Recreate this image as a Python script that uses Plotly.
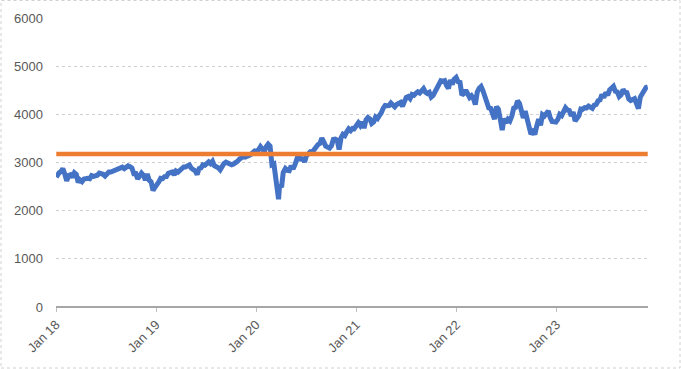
import plotly.graph_objects as go

dates = [
 "2018-01-02","2018-01-05","2018-01-12","2018-01-19","2018-01-26","2018-02-02","2018-02-09","2018-02-16","2018-02-23",
 "2018-03-02","2018-03-09","2018-03-16","2018-03-23","2018-03-29","2018-04-06","2018-04-13","2018-04-20","2018-04-27",
 "2018-05-04","2018-05-11","2018-05-18","2018-05-25","2018-06-01","2018-06-08","2018-06-15","2018-06-22","2018-06-29",
 "2018-07-06","2018-07-13","2018-07-20","2018-07-27","2018-08-03","2018-08-10","2018-08-17","2018-08-24","2018-08-31",
 "2018-09-07","2018-09-14","2018-09-21","2018-09-28","2018-10-05","2018-10-12","2018-10-19","2018-10-26","2018-11-02",
 "2018-11-09","2018-11-16","2018-11-23","2018-11-30","2018-12-07","2018-12-14","2018-12-21","2018-12-28",
 "2019-01-04","2019-01-11","2019-01-18","2019-01-25","2019-02-01","2019-02-08","2019-02-15","2019-02-22","2019-03-01",
 "2019-03-08","2019-03-15","2019-03-22","2019-03-29","2019-04-05","2019-04-12","2019-04-18","2019-04-26","2019-05-03",
 "2019-05-10","2019-05-17","2019-05-24","2019-05-31","2019-06-07","2019-06-14","2019-06-21","2019-06-28","2019-07-05",
 "2019-07-12","2019-07-19","2019-07-26","2019-08-02","2019-08-09","2019-08-16","2019-08-23","2019-08-30","2019-09-06",
 "2019-09-13","2019-09-20","2019-09-27","2019-10-04","2019-10-11","2019-10-18","2019-10-25","2019-11-01","2019-11-08",
 "2019-11-15","2019-11-22","2019-11-29","2019-12-06","2019-12-13","2019-12-20","2019-12-27",
 "2020-01-03","2020-01-10","2020-01-17","2020-01-24","2020-01-31","2020-02-07","2020-02-14","2020-02-21","2020-02-28",
 "2020-03-06","2020-03-13","2020-03-20","2020-03-23","2020-03-27","2020-04-03","2020-04-09","2020-04-17","2020-04-24",
 "2020-05-01","2020-05-08","2020-05-15","2020-05-22","2020-05-29","2020-06-05","2020-06-12","2020-06-19","2020-06-26",
 "2020-07-02","2020-07-10","2020-07-17","2020-07-24","2020-07-31","2020-08-07","2020-08-14","2020-08-21","2020-08-28",
 "2020-09-04","2020-09-11","2020-09-18","2020-09-25","2020-10-02","2020-10-09","2020-10-16","2020-10-23","2020-10-30",
 "2020-11-06","2020-11-13","2020-11-20","2020-11-27","2020-12-04","2020-12-11","2020-12-18","2020-12-24","2020-12-31",
 "2021-01-08","2021-01-15","2021-01-22","2021-01-29","2021-02-05","2021-02-12","2021-02-19","2021-02-26","2021-03-05",
 "2021-03-12","2021-03-19","2021-03-26","2021-04-01","2021-04-09","2021-04-16","2021-04-23","2021-04-30","2021-05-07",
 "2021-05-14","2021-05-21","2021-05-28","2021-06-04","2021-06-11","2021-06-18","2021-06-25","2021-07-02","2021-07-09",
 "2021-07-16","2021-07-23","2021-07-30","2021-08-06","2021-08-13","2021-08-20","2021-08-27","2021-09-03","2021-09-10",
 "2021-09-17","2021-09-24","2021-10-01","2021-10-08","2021-10-15","2021-10-22","2021-10-29","2021-11-05","2021-11-12",
 "2021-11-19","2021-11-26","2021-12-03","2021-12-10","2021-12-17","2021-12-23","2021-12-31",
 "2022-01-07","2022-01-14","2022-01-21","2022-01-28","2022-02-04","2022-02-11","2022-02-18","2022-02-25","2022-03-04",
 "2022-03-11","2022-03-18","2022-03-25","2022-04-01","2022-04-08","2022-04-14","2022-04-22","2022-04-29","2022-05-06",
 "2022-05-13","2022-05-20","2022-05-27","2022-06-03","2022-06-10","2022-06-17","2022-06-24","2022-07-01","2022-07-08",
 "2022-07-15","2022-07-22","2022-07-29","2022-08-05","2022-08-12","2022-08-19","2022-08-26","2022-09-02","2022-09-09",
 "2022-09-16","2022-09-23","2022-09-30","2022-10-07","2022-10-14","2022-10-21","2022-10-28","2022-11-04","2022-11-11",
 "2022-11-18","2022-11-25","2022-12-02","2022-12-09","2022-12-16","2022-12-23","2022-12-30",
 "2023-01-06","2023-01-13","2023-01-20","2023-01-27","2023-02-03","2023-02-10","2023-02-17","2023-02-24","2023-03-03",
 "2023-03-10","2023-03-17","2023-03-24","2023-03-31","2023-04-06","2023-04-14","2023-04-21","2023-04-28","2023-05-05",
 "2023-05-12","2023-05-19","2023-05-26","2023-06-02","2023-06-09","2023-06-16","2023-06-23","2023-06-30","2023-07-07",
 "2023-07-14","2023-07-21","2023-07-28","2023-08-04","2023-08-11","2023-08-18","2023-08-25","2023-09-01","2023-09-08",
 "2023-09-15","2023-09-22","2023-09-29","2023-10-06","2023-10-13","2023-10-20","2023-10-27","2023-11-03","2023-11-10",
 "2023-11-17","2023-11-24","2023-11-30",
]

index_values = [
 2695,2743,2786,2810,2873,2762,2620,2732,2747,
 2691,2786,2752,2588,2641,2604,2656,2670,2670,
 2663,2728,2713,2721,2735,2779,2780,2755,2718,
 2760,2801,2802,2819,2840,2833,2850,2875,2902,
 2872,2905,2930,2914,2885,2767,2768,2658,2723,
 2781,2736,2633,2760,2633,2600,2417,2486,
 2532,2596,2671,2665,2707,2708,2776,2793,2804,
 2743,2822,2800,2834,2893,2907,2905,2940,2946,
 2881,2860,2826,2752,2873,2887,2950,2942,2990,
 3014,2977,3026,2932,2919,2889,2847,2926,2979,
 3007,2992,2962,2952,2970,2986,3023,3067,3093,
 3120,3110,3141,3146,3169,3221,3240,
 3235,3265,3330,3295,3226,3328,3380,3338,2954,
 2972,2711,2305,2237,2541,2489,2790,2875,2837,
 2831,2930,2864,2955,3044,3194,3041,3098,3009,
 3130,3185,3225,3216,3271,3351,3373,3397,3508,
 3427,3341,3319,3298,3348,3477,3484,3465,3270,
 3510,3585,3558,3638,3699,3663,3709,3703,3756,
 3825,3768,3841,3714,3887,3934,3907,3811,3842,
 3943,3913,3975,4020,4129,4185,4180,4181,4233,
 4174,4156,4204,4230,4247,4166,4281,4352,4370,
 4327,4412,4395,4437,4468,4442,4509,4535,4459,
 4433,4455,4357,4391,4471,4545,4605,4697,4683,
 4698,4595,4538,4712,4621,4726,4766,
 4677,4663,4398,4432,4501,4419,4349,4385,4329,
 4204,4463,4543,4580,4488,4392,4272,4132,4123,
 4024,3901,4158,4109,3901,3675,3912,3825,3899,
 3863,3962,4130,4145,4280,4228,4058,3924,4067,
 3873,3693,3586,3640,3583,3753,3901,3771,3993,
 3965,4026,4072,3934,3852,3845,3840,
 3895,3999,3973,4071,4136,4090,4079,3970,4046,
 3862,3917,3971,4109,4105,4138,4133,4169,4136,
 4124,4192,4205,4282,4299,4410,4348,4450,4399,
 4505,4536,4582,4478,4464,4370,4406,4516,4457,
 4450,4320,4288,4309,4327,4224,4117,4358,4415,
 4514,4559,4568,
]

reference_level = 3175
y_ticks = [0, 1000, 2000, 3000, 4000, 5000, 6000]
x_tick_dates = ["2018-01-01", "2019-01-01", "2020-01-01", "2021-01-01", "2022-01-01", "2023-01-01"]
x_tick_labels = ["Jan 18", "Jan 19", "Jan 20", "Jan 21", "Jan 22", "Jan 23"]

fig = go.Figure()
fig.add_trace(go.Scatter(
    x=dates, y=index_values, mode="lines",
    line=dict(color="#4472C4", width=5), showlegend=False, hoverinfo="skip",
))
fig.add_trace(go.Scatter(
    x=[dates[0], dates[-1]], y=[reference_level, reference_level], mode="lines",
    line=dict(color="#ED7D31", width=4.5), showlegend=False, hoverinfo="skip",
))

W, H = 681, 369
L, R, T, B = 56, 33, 18, 62
pw, ph = W - L - R, H - T - B

fig.update_layout(
    width=W, height=H,
    margin=dict(l=L, r=R, t=T, b=B, pad=0),
    paper_bgcolor="white", plot_bgcolor="white",
    font=dict(family="Liberation Sans, Arial, sans-serif", size=12, color="#595959"),
    xaxis=dict(
        type="date", range=["2018-01-01", "2023-12-01"],
        tickvals=x_tick_dates, ticktext=x_tick_labels, tickangle=-45,
        showgrid=False, showline=False, zeroline=False,
        ticks="outside", ticklen=4, tickcolor="#BFBFBF", tickwidth=1,
        tickfont=dict(size=13, color="#595959"),
    ),
    yaxis=dict(
        range=[0, 6000], tickvals=y_ticks,
        showgrid=True, gridcolor="#D0D0D0", griddash="dot", gridwidth=1,
        zeroline=True, zerolinecolor="#A6A6A6", zerolinewidth=2,
        showline=False, ticks="", ticklabelstandoff=12,
        tickfont=dict(size=13, color="#595959"),
    ),
    shapes=[dict(
        type="rect", xref="paper", yref="paper",
        x0=-(L - 1) / pw, x1=(W - L - 1) / pw,
        y0=-(B - 1) / ph, y1=(ph + T - 0.5) / ph,
        line=dict(color="#D0D0D0", width=1, dash="dot"),
        fillcolor="rgba(0,0,0,0)", layer="below",
    )],
)

fig.write_html("out.html", config={"displayModeBar": False},
               post_script="document.body.style.margin='0';")
